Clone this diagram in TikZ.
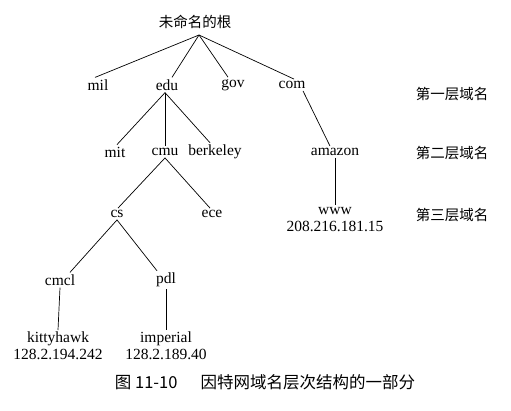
\documentclass[tikz,border=0pt]{standalone}
\usepackage{fontspec}
\setmainfont{Liberation Serif}
\newfontfamily\cjk{Noto Sans CJK SC}
\begin{document}
\begin{tikzpicture}[x=1pt,y=-1pt,
  dom/.style={font=\fontsize{15.5}{17}\selectfont, inner sep=2pt, align=center},
  lvl/.style={font=\cjk\fontsize{14.5}{16}\selectfont, inner sep=1pt},
  link/.style={draw=black, line width=0.7pt}]
\useasboundingbox (0,0) rectangle (511,410);
% root and first level
\node[lvl] (root) at (195,22) {未命名的根};
\node[dom] (mil) at (98,85) {mil};
\node[dom] (edu) at (167,85) {edu};
\node[dom] (gov) at (233,85) {gov};
\node[dom] (com) at (292,85) {com};
% second level
\node[dom] (mit) at (115,152) {mit};
\node[dom] (cmu) at (165,152) {cmu};
\node[dom] (berkeley) at (215,152) {berkeley};
\node[dom] (amazon) at (335,152) {amazon};
% third level
\node[dom] (cs) at (117,214) {cs};
\node[dom] (ece) at (212,214) {ece};
\node[dom, anchor=north] (www) at (335,205) {www\\208.216.181.15};
% hosts under cs
\node[dom] (cmcl) at (60,280) {cmcl};
\node[dom] (pdl) at (166,280) {pdl};
\node[dom, anchor=north] (kitty) at (58,330) {kittyhawk\\128.2.194.242};
\node[dom, anchor=north] (imperial) at (166,330) {imperial\\128.2.189.40};
% level labels
\node[lvl] (l1) at (452,94) {第一层域名};
\node[lvl] (l2) at (452,153) {第二层域名};
\node[lvl] (l3) at (452,215) {第三层域名};
% caption
\node[font=\cjk\fontsize{16.5}{18}\selectfont] (cap) at (265,382) {图 11-10\hspace{1.4em}因特网域名层次结构的一部分};
% tree links
\coordinate (rj) at (199,35);
\draw[link] (rj) -- ([xshift=-3pt]mil.north);
\draw[link] (rj) -- ([xshift=5pt]edu.north);
\draw[link] (rj) -- ([xshift=-5pt]gov.north);
\draw[link] (rj) -- ([xshift=2pt]com.north);
\draw[link] ([xshift=-2pt]edu.south) -- ([xshift=2pt]mit.north);
\draw[link] ([xshift=-2pt]edu.south) -- (cmu.north);
\draw[link] ([xshift=-2pt]edu.south) -- ([xshift=-5pt]berkeley.north);
\draw[link] ([xshift=11pt]com.south) -- ([xshift=-5pt]amazon.north);
\draw[link] (amazon.south) -- (www.north);
\draw[link] (cmu.south) -- ([xshift=1pt]cs.north);
\draw[link] (cmu.south) -- ([xshift=-2pt]ece.north);
\draw[link] (cs.south) -- ([xshift=10pt]cmcl.north);
\draw[link] (cs.south) -- ([xshift=-9pt]pdl.north);
\draw[link] (cmcl.south) -- (kitty.north);
\draw[link] (pdl.south) -- (imperial.north);
\end{tikzpicture}
\end{document}
